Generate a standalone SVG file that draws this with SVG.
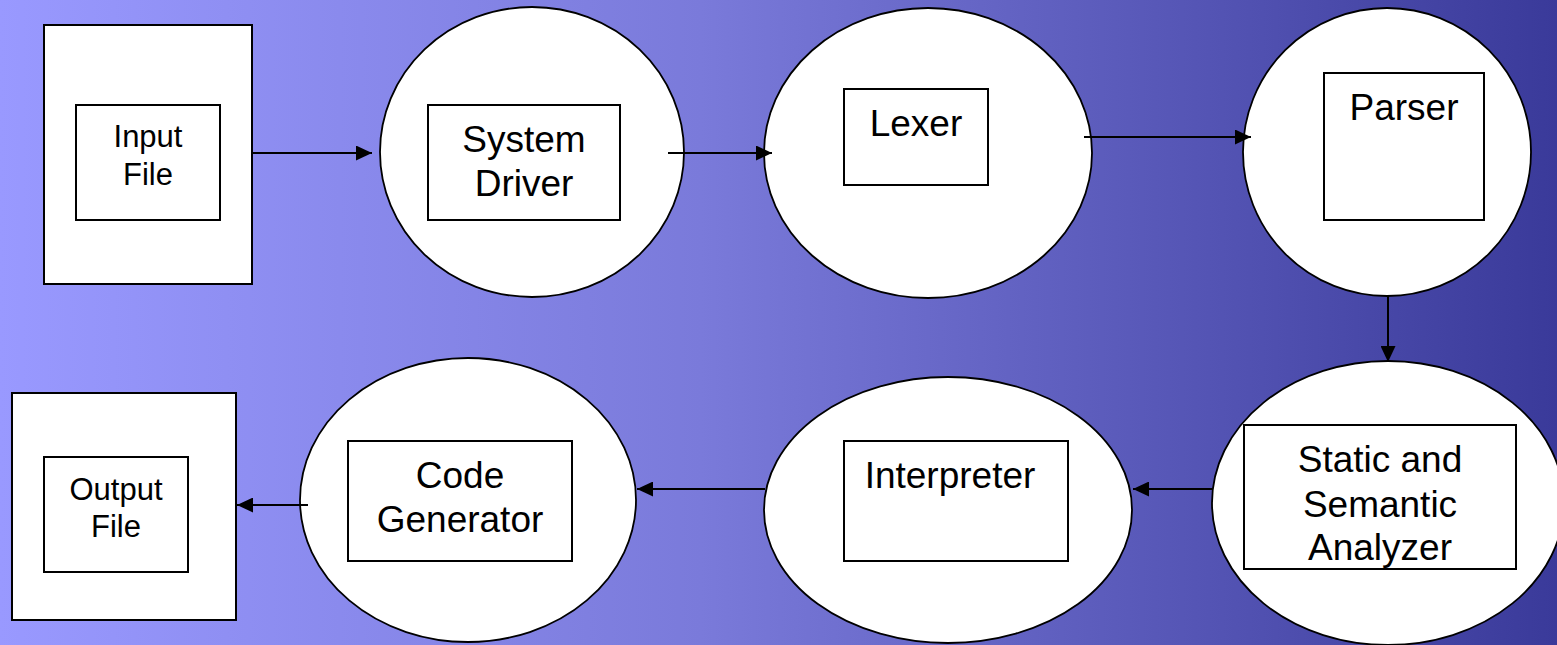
<svg xmlns="http://www.w3.org/2000/svg" width="1557" height="645" viewBox="0 0 1557 645">
<defs>
<linearGradient id="bg" x1="0" y1="0" x2="1" y2="0">
<stop offset="0" stop-color="#9999FF"/>
<stop offset="0.45" stop-color="#7A7ADA"/>
<stop offset="1" stop-color="#3A3A9A"/>
</linearGradient>
<marker id="ah" markerWidth="16" markerHeight="15" refX="16" refY="7.5" orient="auto" markerUnits="userSpaceOnUse">
<path d="M0,0 L16,7.5 L0,15 Z" fill="#000"/>
</marker>
</defs>
<style>
.box{fill:#fff;stroke:#000;stroke-width:2}
.ell{fill:#fff;stroke:#000;stroke-width:1.8}
.conn{stroke:#000;stroke-width:2;fill:none;marker-end:url(#ah)}
text{font-family:"Liberation Sans",Arial,sans-serif;fill:#000;text-anchor:middle}
.s{font-size:31px}
.l{font-size:37px}
</style>
<rect x="0" y="0" width="1557" height="645" fill="url(#bg)"/>
<g id="input-file">
<rect class="box" x="44" y="25" width="208" height="259"/>
<rect class="box" x="76" y="105" width="144" height="115"/>
<text class="s" x="148" y="147">Input</text>
<text class="s" x="148" y="185">File</text>
</g>
<g id="system-driver">
<ellipse class="ell" cx="532" cy="152" rx="152" ry="145"/>
<rect class="box" x="428" y="105" width="192" height="115"/>
<text class="l" x="524" y="152">System</text>
<text class="l" x="524" y="196">Driver</text>
</g>
<g id="lexer">
<ellipse class="ell" cx="928" cy="153" rx="164" ry="145"/>
<rect class="box" x="844" y="89" width="144" height="96"/>
<text class="l" x="916" y="136">Lexer</text>
</g>
<g id="parser">
<ellipse class="ell" cx="1387" cy="152" rx="144" ry="144"/>
<rect class="box" x="1324" y="73" width="160" height="147"/>
<text class="l" x="1404" y="120">Parser</text>
</g>
<g id="analyzer">
<ellipse class="ell" cx="1388" cy="503" rx="176" ry="142"/>
<rect class="box" x="1244" y="425" width="272" height="144"/>
<text class="l" x="1380" y="472">Static and</text>
<text class="l" x="1380" y="517">Semantic</text>
<text class="l" x="1380" y="560">Analyzer</text>
</g>
<g id="interpreter">
<ellipse class="ell" cx="948" cy="510" rx="184" ry="133"/>
<rect class="box" x="844" y="441" width="224" height="120"/>
<text class="l" x="950" y="488">Interpreter</text>
</g>
<g id="code-generator">
<ellipse class="ell" cx="468" cy="500" rx="168" ry="142"/>
<rect class="box" x="348" y="441" width="224" height="120"/>
<text class="l" x="460" y="488">Code</text>
<text class="l" x="460" y="532">Generator</text>
</g>
<g id="output-file">
<rect class="box" x="12" y="393" width="224" height="227"/>
<rect class="box" x="44" y="457" width="144" height="115"/>
<text class="s" x="116" y="500">Output</text>
<text class="s" x="116" y="537">File</text>
</g>
<g id="connectors">
<line class="conn" x1="252" y1="153" x2="372" y2="153"/>
<line class="conn" x1="668" y1="153" x2="772" y2="153"/>
<line class="conn" x1="1084" y1="137" x2="1251" y2="137"/>
<line class="conn" x1="1388" y1="296" x2="1388" y2="362"/>
<line class="conn" x1="1212" y1="489" x2="1133" y2="489"/>
<line class="conn" x1="765" y1="489" x2="637" y2="489"/>
<line class="conn" x1="308" y1="505" x2="237" y2="505"/>
</g>
</svg>
